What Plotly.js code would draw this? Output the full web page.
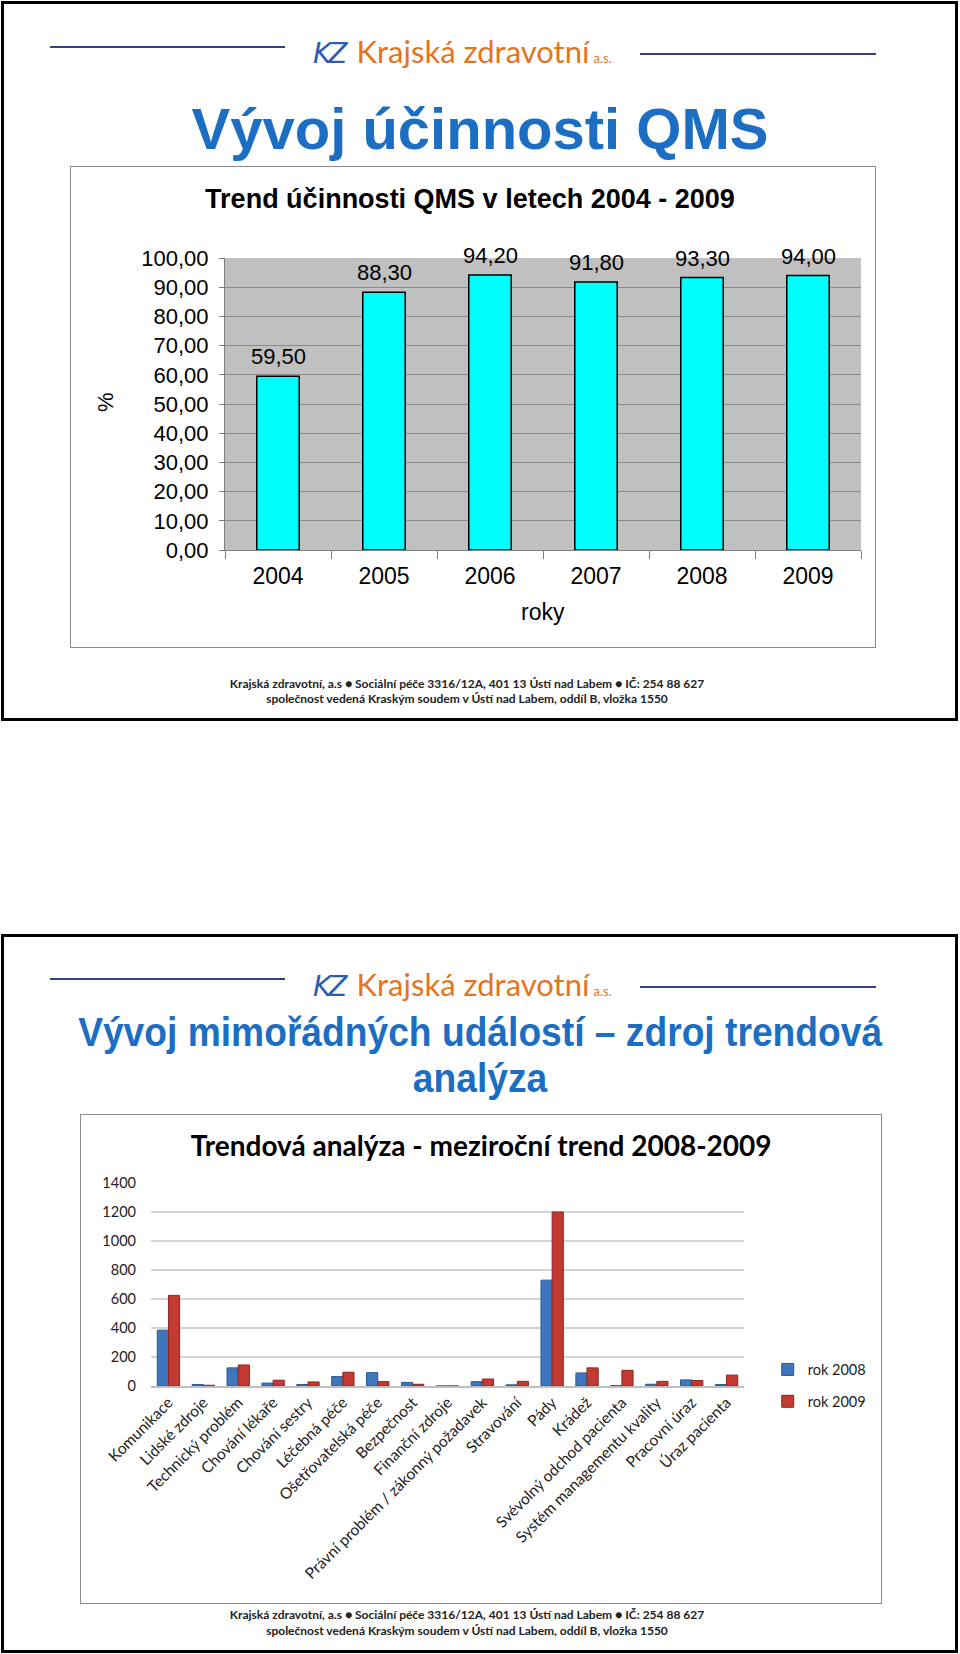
<!DOCTYPE html>
<html>
<head>
<meta charset="utf-8">
<script src="https://cdn.plot.ly/plotly-3.0.1.min.js"></script>
<style>
  html, body { margin: 0; padding: 0; background: #fff; }
  body { width: 960px; height: 1654px; position: relative; overflow: hidden; font-family: "Liberation Sans", Arial, sans-serif; }
  .slide { position: absolute; left: 1px; width: 951px; border: 3px solid #000; background: #fff; }
  .hline { position: absolute; height: 2px; background: #3d3f86; }
  .logo { position: absolute; white-space: nowrap; font-family: Lato, "Open Sans", sans-serif; color: #e5741f; }
  .logo .kz { font-family: "DejaVu Sans", sans-serif; font-style: italic; color: #2b5cb3; font-size: 28px; letter-spacing: -3px; margin-right: 12px; }
  .logo .nm { font-size: 31px; }
  .logo .as { font-size: 13px; margin-left: 4px; }
  .title { position: absolute; left: 0; width: 100%; text-align: center; font-weight: bold; color: #1b6ec2; white-space: nowrap; line-height: 1; }
  .title span { display: inline-block; transform-origin: center center; }
  .frame { position: absolute; border: 1px solid #8a8a8a; box-sizing: border-box; background: #fff; }
  .chart { position: absolute; left: 0; top: 0; }
  .footer { position: absolute; left: 0; width: 934px; text-align: center; font-family: Lato, sans-serif; font-weight: bold; font-size: 12px; color: #222; white-space: nowrap; line-height: 1; }
</style>
</head>
<body>

<div class="slide" style="top:1px;height:714px;"></div>
<div class="slide" style="top:934px;height:713px;"></div>

<!-- slide 1 header -->
<div class="hline" style="left:50px;top:46px;width:235px;"></div>
<div class="logo" style="left:313px;top:32px;"><span class="kz">KZ</span><span class="nm">Krajská zdravotní</span><span class="as">a.s.</span></div>
<div class="hline" style="left:640px;top:53px;width:236px;"></div>
<div class="title" id="t1" style="top:100px;font-size:58px;"><span>Vývoj účinnosti QMS</span></div>

<div class="frame" style="left:70px;top:166px;width:806px;height:482px;"><div id="chart1" class="chart"></div></div>

<div class="footer" style="top:678px;">Krajská zdravotní, a.s ● Sociální péče 3316/12A, 401 13 Ústí nad Labem ● IČ: 254 88 627</div>
<div class="footer" style="top:693px;">společnost vedená Kraským soudem v Ústí nad Labem, oddíl B, vložka 1550</div>

<!-- slide 2 header -->
<div class="hline" style="left:50px;top:978px;width:235px;"></div>
<div class="logo" style="left:313px;top:965px;"><span class="kz">KZ</span><span class="nm">Krajská zdravotní</span><span class="as">a.s.</span></div>
<div class="hline" style="left:640px;top:986px;width:236px;"></div>
<div class="title" id="t2a" style="top:1012px;font-size:41px;"><span>Vývoj mimořádných událostí – zdroj trendová</span></div>
<div class="title" id="t2b" style="top:1058px;font-size:41px;"><span>analýza</span></div>

<div class="frame" style="left:80px;top:1114px;width:802px;height:490px;"><div id="chart2" class="chart"></div></div>

<div class="footer" style="top:1609px;">Krajská zdravotní, a.s ● Sociální péče 3316/12A, 401 13 Ústí nad Labem ● IČ: 254 88 627</div>
<div class="footer" style="top:1625px;">společnost vedená Kraským soudem v Ústí nad Labem, oddíl B, vložka 1550</div>

<script>
// ---------- DATA ----------
const years = ['2004', '2005', '2006', '2007', '2008', '2009'];
const qmsValues = [59.5, 88.3, 94.2, 91.8, 93.3, 94.0];

const eventCategories = [
  'Komunikace', 'Lidské zdroje', 'Technický problém', 'Chování lékaře', 'Chování sestry',
  'Léčebná péče', 'Ošetřovatelská péče', 'Bezpečnost', 'Finanční zdroje',
  'Právní problém / zákonný požadavek', 'Stravování', 'Pády', 'Krádež',
  'Svévolný odchod pacienta', 'Systém managementu kvality', 'Pracovní úraz', 'Úraz pacienta'
];
const events2008 = [385, 10, 125, 20, 10, 65, 92, 25, 0, 30, 8, 730, 90, 3, 12, 42, 10];
const events2009 = [625, 5, 145, 40, 28, 95, 30, 12, 0, 48, 32, 1200, 125, 108, 32, 38, 75];
const seriesNames = ['rok 2008', 'rok 2009'];

// ---------- fit slide-2 title width ----------
(function () {
  const s = document.querySelector('#t2a span');
  const w = s.getBoundingClientRect().width;
  const k = Math.min(1, 804 / w);
  document.querySelectorAll('#t2a span, #t2b span').forEach(e => e.style.transform = 'scaleX(' + k + ')');
})();

// ---------- CHART 1 ----------
const arial = '"Liberation Sans", Arial, sans-serif';
Plotly.newPlot('chart1', [{
  type: 'bar',
  x: years,
  y: qmsValues,
  textposition: 'none',
  marker: { color: '#00ffff', line: { color: '#000', width: 1.5 } },
  hoverinfo: 'skip'
}], {
  width: 806, height: 482,
  margin: { l: 154, r: 16, t: 91, b: 99 },
  paper_bgcolor: 'rgba(0,0,0,0)',
  plot_bgcolor: '#c0c0c0',
  separators: ', ',
  bargap: 0.6,
  showlegend: false,
  title: { text: 'Trend účinnosti QMS v letech 2004 - 2009', font: { family: arial, size: 27, color: '#000', weight: 'bold' },
           x: 0.495, xref: 'container', y: 0.934, yref: 'container', xanchor: 'center', yanchor: 'middle' },
  xaxis: {
    type: 'category', range: [-0.5, years.length - 0.5], tickson: 'boundaries', ticks: 'outside', ticklen: 8, tickcolor: '#808080',
    showline: true, linecolor: '#808080', linewidth: 1, tickangle: 0,
    tickfont: { family: arial, size: 23, color: '#000' }, ticklabelstandoff: 5,
    automargin: false, fixedrange: true
  },
  yaxis: {
    range: [0, 100], dtick: 10, tickformat: '.2f',
    showgrid: true, gridcolor: '#8a8a8a', gridwidth: 1,
    ticks: 'outside', ticklen: 5, tickcolor: '#808080',
    showline: true, linecolor: '#808080', linewidth: 1, zeroline: false,
    tickfont: { family: arial, size: 22, color: '#000' }, ticklabelstandoff: 6,
    automargin: false, fixedrange: true
  },
  annotations: qmsValues.map((v, i) => ({
    x: i, y: v, xref: 'x', yref: 'y', xanchor: 'center', yanchor: 'bottom', yshift: 5,
    text: v.toFixed(2).replace('.', ','), showarrow: false,
    font: { family: arial, size: 22, color: '#000' }
  })).concat([
    { x: -0.187, y: 0.507, xref: 'paper', yref: 'paper', xanchor: 'center', yanchor: 'middle', text: '%', textangle: -90, showarrow: false,
      font: { family: arial, size: 22, color: '#000' } },
    { x: 0.5, y: -0.213, xref: 'paper', yref: 'paper', xanchor: 'center', yanchor: 'middle', text: 'roky', showarrow: false,
      font: { family: arial, size: 23, color: '#000' } }
  ])
}, { staticPlot: true });

// ---------- CHART 2 ----------
const lato = 'Lato, "Open Sans", sans-serif';
Plotly.newPlot('chart2', [
  { type: 'bar', name: seriesNames[0], x: eventCategories, y: events2008, legendgroup: 'a',
    marker: { color: '#3f77bf', line: { color: '#2a5794', width: 1 } }, hoverinfo: 'skip' },
  { type: 'bar', name: seriesNames[1], x: eventCategories, y: events2009, legendgroup: 'b',
    marker: { color: '#c23a32', line: { color: '#8c2520', width: 1 } }, hoverinfo: 'skip' }
], {
  width: 802, height: 490,
  margin: { l: 70, r: 118, t: 68, b: 219 },
  paper_bgcolor: 'rgba(0,0,0,0)',
  plot_bgcolor: '#fff',
  barmode: 'group', bargap: 0.36, bargroupgap: 0,
  title: { text: 'Trendová analýza - meziroční trend 2008-2009', font: { family: lato, size: 28, color: '#000', weight: 'bold' },
           x: 0.499, xref: 'container', y: 0.937, yref: 'container', xanchor: 'center', yanchor: 'middle' },
  xaxis: {
    type: 'category', tickangle: -45, ticks: '', showline: true, linecolor: '#bfbfbf', linewidth: 1.5,
    tickfont: { family: lato, size: 15.5, color: '#222' }, automargin: false, fixedrange: true
  },
  yaxis: {
    range: [0, 1400], dtick: 200, showgrid: true, gridcolor: '#d4d4d4', gridwidth: 1.5,
    zeroline: false, showline: false, ticks: '',
    tickfont: { family: lato, size: 14.5, color: '#222' }, ticklabelstandoff: 14,
    automargin: false, fixedrange: true
  },
  showlegend: true,
  legend: { x: 1.04, y: 0.16, xanchor: 'left', yanchor: 'top', traceorder: 'grouped', tracegroupgap: 10,
            font: { family: lato, size: 14.5, color: '#222' }, itemwidth: 30, bgcolor: 'rgba(0,0,0,0)' }
}, { staticPlot: true });
</script>
</body>
</html>
